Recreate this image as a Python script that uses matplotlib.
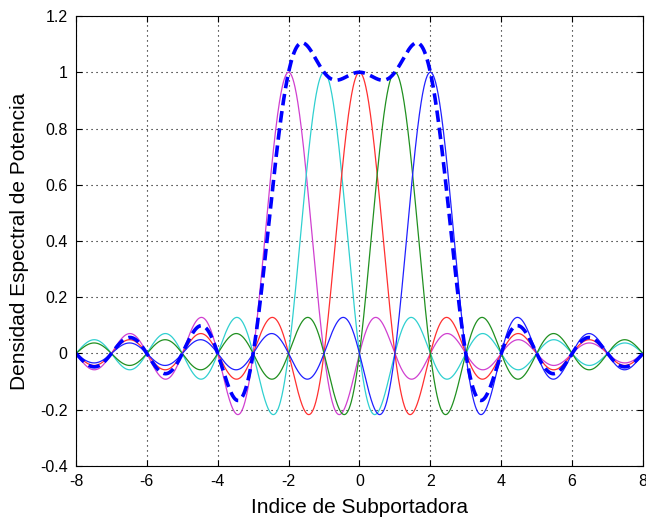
import numpy as np
import matplotlib
matplotlib.use('Agg')
import matplotlib.pyplot as plt

# subportadoras OFDM (centros) y sus colores
subportadoras = [-2, -1, 0, 1, 2]
colores = ['#d040d0', '#30d0d0', '#ff3030', '#209020', '#2020ff']
x_lim = [-8, 8]
y_lim = [-0.4, 1.2]
x_ticks = [-8, -6, -4, -2, 0, 2, 4, 6, 8]
y_ticks = [-0.4, -0.2, 0, 0.2, 0.4, 0.6, 0.8, 1, 1.2]

plt.rcParams['font.family'] = ['Liberation Sans', 'DejaVu Sans']

fig = plt.figure(figsize=(6.46, 5.18), dpi=100)
ax = fig.add_axes([0.1176, 0.1004, 0.8777, 0.8687])

f = np.linspace(x_lim[0], x_lim[1], 1601)
total = np.zeros_like(f)
for k, c in zip(subportadoras, colores):
    # espectro de cada subportadora: sinc centrada en k
    s = np.sinc(f - k)
    total += s
    ax.plot(f, s, color=c, lw=0.9)

ax.plot(f, total, color='#0000ff', lw=2.6, ls=(0, (3.2, 1.6)))

ax.set_xlim(x_lim)
ax.set_ylim(y_lim)
ax.set_xticks(x_ticks)
ax.set_yticks(y_ticks)
ax.set_xticklabels([str(t) for t in x_ticks])
ax.set_yticklabels(['-0.4', '-0.2', '0', '0.2', '0.4', '0.6', '0.8', '1', '1.2'])
ax.tick_params(direction='in', top=True, right=True, labelsize=11.5, length=4)
ax.tick_params(axis='x', pad=6)
ax.tick_params(axis='y', pad=6)
ax.grid(True, color='black', ls=(0, (1, 3.5)), lw=0.8)
for sp in ax.spines.values():
    sp.set_linewidth(0.8)

ax.set_xlabel('Indice de Subportadora', fontsize=15, labelpad=6)
ax.set_ylabel('Densidad Espectral de Potencia', fontsize=15, labelpad=8)

fig.savefig('out.png', dpi=100)
